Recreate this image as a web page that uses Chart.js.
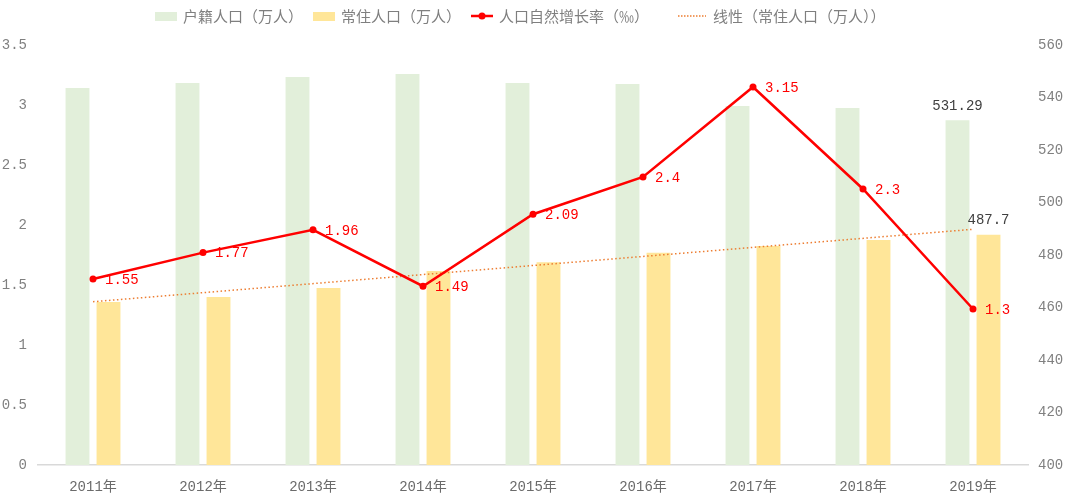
<!DOCTYPE html>
<html><head><meta charset="utf-8">
<script src="https://cdn.jsdelivr.net/npm/chart.js@4.4.1/dist/chart.umd.min.js"></script>
<style>html,body{margin:0;padding:0;background:#fff}#wrap{width:1080px;height:500px}</style>
</head><body><div id="wrap"><canvas id="c" width="1080" height="500"></canvas></div>
<script>
// ---- data ----
const categories = ['2011年','2012年','2013年','2014年','2015年','2016年','2017年','2018年','2019年'];
const registeredPop = [543.6, 545.5, 547.8, 549.0, 545.5, 545.1, 536.8, 536.0, 531.29];
const residentPop   = [462.1, 464.0, 467.4, 473.9, 477.2, 480.9, 483.4, 485.7, 487.7];
const growthRate    = [1.55, 1.77, 1.96, 1.49, 2.09, 2.4, 3.15, 2.3, 1.3];
const trendResident = [462.2, null, null, null, null, null, null, null, 489.8];
const seriesNames   = ['户籍人口（万人）','常住人口（万人）','人口自然增长率（‰）','线性（常住人口（万人））'];
const leftRange  = [0, 3.5, 0.5];
const rightRange = [400, 560, 20];

const NUMFONT = '"Liberation Mono", "Noto Sans CJK SC", monospace';
const CJKFONT = '"Noto Sans CJK SC", sans-serif';
const TICKCOLOR = '#808080';

const labelPlugin = {
  id: 'valueLabels',
  afterDatasetsDraw(chart) {
    const ctx = chart.ctx;
    ctx.save();
    ctx.font = '14px ' + NUMFONT;
    const lm = chart.getDatasetMeta(2);
    ctx.fillStyle = '#FF0000';
    ctx.textAlign = 'left';
    ctx.textBaseline = 'middle';
    lm.data.forEach((pt, i) => ctx.fillText(String(growthRate[i]), pt.x + 12, pt.y + 1));
    ctx.fillStyle = '#404040';
    ctx.textAlign = 'center';
    ctx.textBaseline = 'bottom';
    const last = categories.length - 1;
    const b0 = chart.getDatasetMeta(0).data[last];
    const b1 = chart.getDatasetMeta(1).data[last];
    ctx.fillText(String(registeredPop[last]), b0.x, b0.y - 7);
    ctx.fillText(String(residentPop[last]), b1.x, b1.y - 7);
    ctx.restore();
  }
};

const legendPlugin = {
  id: 'customLegend',
  afterDraw(chart) {
    const ctx = chart.ctx;
    const starts = [155, 313, 471, 678];
    const y = 16;
    ctx.save();
    ctx.font = '15px ' + CJKFONT;
    ctx.textBaseline = 'middle';
    ctx.textAlign = 'left';
    chart.data.datasets.forEach((ds, i) => {
      const x = starts[i];
      if (i < 2) {
        ctx.fillStyle = ds.backgroundColor;
        ctx.fillRect(x, y - 4, 22, 9);
      } else if (i === 2) {
        ctx.strokeStyle = ds.borderColor; ctx.lineWidth = 2.5;
        ctx.beginPath(); ctx.moveTo(x, y); ctx.lineTo(x + 22, y); ctx.stroke();
        ctx.fillStyle = ds.borderColor;
        ctx.beginPath(); ctx.arc(x + 11, y, 3.5, 0, Math.PI * 2); ctx.fill();
      } else {
        ctx.strokeStyle = ds.borderColor; ctx.lineWidth = 1.5;
        ctx.setLineDash([1.5, 1.5]);
        ctx.beginPath(); ctx.moveTo(x, y); ctx.lineTo(x + 28, y); ctx.stroke();
        ctx.setLineDash([]);
      }
      ctx.fillStyle = '#7f7f7f';
      ctx.fillText(ds.label, x + (i === 3 ? 35 : 28), y);
    });
    ctx.restore();
  }
};

new Chart(document.getElementById('c'), {
  data: {
    labels: categories,
    datasets: [
      { type: 'bar', label: seriesNames[0], data: registeredPop, yAxisID: 'y1',
        backgroundColor: '#E2EFDA', categoryPercentage: 0.564, barPercentage: 0.77, order: 3 },
      { type: 'bar', label: seriesNames[1], data: residentPop, yAxisID: 'y1',
        backgroundColor: '#FFE699', categoryPercentage: 0.564, barPercentage: 0.77, order: 3 },
      { type: 'line', label: seriesNames[2], data: growthRate, yAxisID: 'y',
        borderColor: '#FF0000', backgroundColor: '#FF0000', borderWidth: 2.5,
        pointRadius: 3.5, pointBackgroundColor: '#FF0000', pointBorderWidth: 0, tension: 0, order: 1 },
      { type: 'line', label: seriesNames[3], data: trendResident, yAxisID: 'y1', spanGaps: true,
        borderColor: '#ED7D31', borderWidth: 1.5, borderDash: [1.5, 2.5], pointRadius: 0, order: 2 }
    ]
  },
  options: {
    responsive: false,
    animation: false,
    devicePixelRatio: 1,
    layout: { padding: { top: 45, left: 0, right: 0, bottom: 0 } },
    plugins: { legend: { display: false }, tooltip: { enabled: false } },
    scales: {
      x: {
        grid: { display: false, drawTicks: false },
        border: { display: true, color: '#D9D9D9', width: 1.5 },
        ticks: { color: '#6b6b6b', font: { size: 14, family: NUMFONT }, padding: 14 },
        afterFit: s => { s.height = 35; }
      },
      y: {
        position: 'left', min: leftRange[0], max: leftRange[1],
        grid: { display: false, drawTicks: false },
        border: { display: false },
        ticks: { stepSize: leftRange[2], color: TICKCOLOR, font: { size: 14, family: NUMFONT }, padding: 11,
                 callback: v => String(v) },
        afterFit: s => { s.width = 38; }
      },
      y1: {
        position: 'right', min: rightRange[0], max: rightRange[1],
        grid: { display: false, drawTicks: false },
        border: { display: false },
        ticks: { stepSize: rightRange[2], color: TICKCOLOR, font: { size: 14, family: NUMFONT }, padding: 10,
                 callback: v => String(v) },
        afterFit: s => { s.width = 52; }
      }
    }
  },
  plugins: [labelPlugin, legendPlugin]
});
</script></body></html>
